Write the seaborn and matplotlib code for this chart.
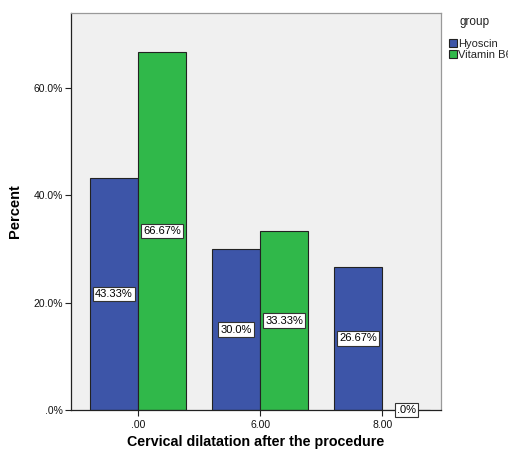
import numpy as np
import pandas as pd
import matplotlib
matplotlib.use("Agg")
import matplotlib.pyplot as plt
import seaborn as sns

# chart values
dilatation = [".00", "6.00", "8.00"]
groups = ["Hyoscin", "Vitamin B6"]
hyoscin_pct = [43.33, 30.0, 26.67]
vitb6_pct = [66.67, 33.33, 0.0]
hyoscin_labels = ["43.33%", "30.0%", "26.67%"]
vitb6_labels = ["66.67%", "33.33%", ".0%"]
y_ticks = [0, 20, 40, 60]
y_ticklabels = [".0%", "20.0%", "40.0%", "60.0%"]

df = pd.DataFrame({
    "dilatation": dilatation * 2,
    "group": [groups[0]] * 3 + [groups[1]] * 3,
    "percent": hyoscin_pct + vitb6_pct,
})

sns.set_theme(style="ticks")
plt.rcParams["font.family"] = ["Liberation Sans", "DejaVu Sans"]

fig = plt.figure(figsize=(5.08, 4.5), dpi=100)
ax = fig.add_axes([71 / 508, 40 / 450, 370 / 508, 397 / 450])
ax.set_facecolor("#F0F0F0")

palette = {"Hyoscin": "#3D55A8", "Vitamin B6": "#30B84A"}
sns.barplot(data=df, x="dilatation", y="percent", hue="group", order=dilatation,
            hue_order=groups, palette=palette, width=0.787, saturation=1,
            edgecolor="#222222", linewidth=0.8, ax=ax)

for cont, labs in zip(ax.containers, [hyoscin_labels, vitb6_labels]):
    ax.bar_label(cont, labels=labs, label_type="center", fontsize=8, color="black",
                 bbox=dict(boxstyle="square,pad=0.2", fc="white", ec="#333333", lw=0.8))

ax.set_xlim(-0.549, 2.48)
ax.set_ylim(0, 74)
ax.set_yticks(y_ticks)
ax.set_yticklabels(y_ticklabels)
ax.tick_params(axis="both", labelsize=7.5, length=4, width=0.8, color="#222222",
               labelcolor="#111111", pad=2)
ax.tick_params(axis="x", pad=3)

ax.set_xlabel("Cervical dilatation after the procedure", fontsize=10.3, fontweight="bold",
              labelpad=4, color="black")
ax.set_ylabel("Percent", fontsize=10.5, fontweight="bold", labelpad=8, color="black")

for s in ["left", "bottom"]:
    ax.spines[s].set_color("#222222")
    ax.spines[s].set_linewidth(0.9)
for s in ["top", "right"]:
    ax.spines[s].set_visible(True)
    ax.spines[s].set_color("#999999")
    ax.spines[s].set_linewidth(0.9)

# legend sits outside the plot and runs off the right edge, as in the reference
ax.legend_.remove()
handles = [plt.Rectangle((0, 0), 1, 1, fc=palette[g], ec="#222222", lw=0.8) for g in groups]
leg = fig.legend(handles, groups, loc="upper left", bbox_to_anchor=(449 / 508, 1 - 39 / 450),
                 frameon=False, fontsize=8, handlelength=0.7, handleheight=0.7,
                 handletextpad=0.15, labelspacing=0.1, borderaxespad=0, borderpad=0)
fig.text(475 / 508, 1 - 22 / 450, "group", fontsize=8.5, ha="center", va="center", color="#222222")

fig.savefig("out.png", dpi=100)
